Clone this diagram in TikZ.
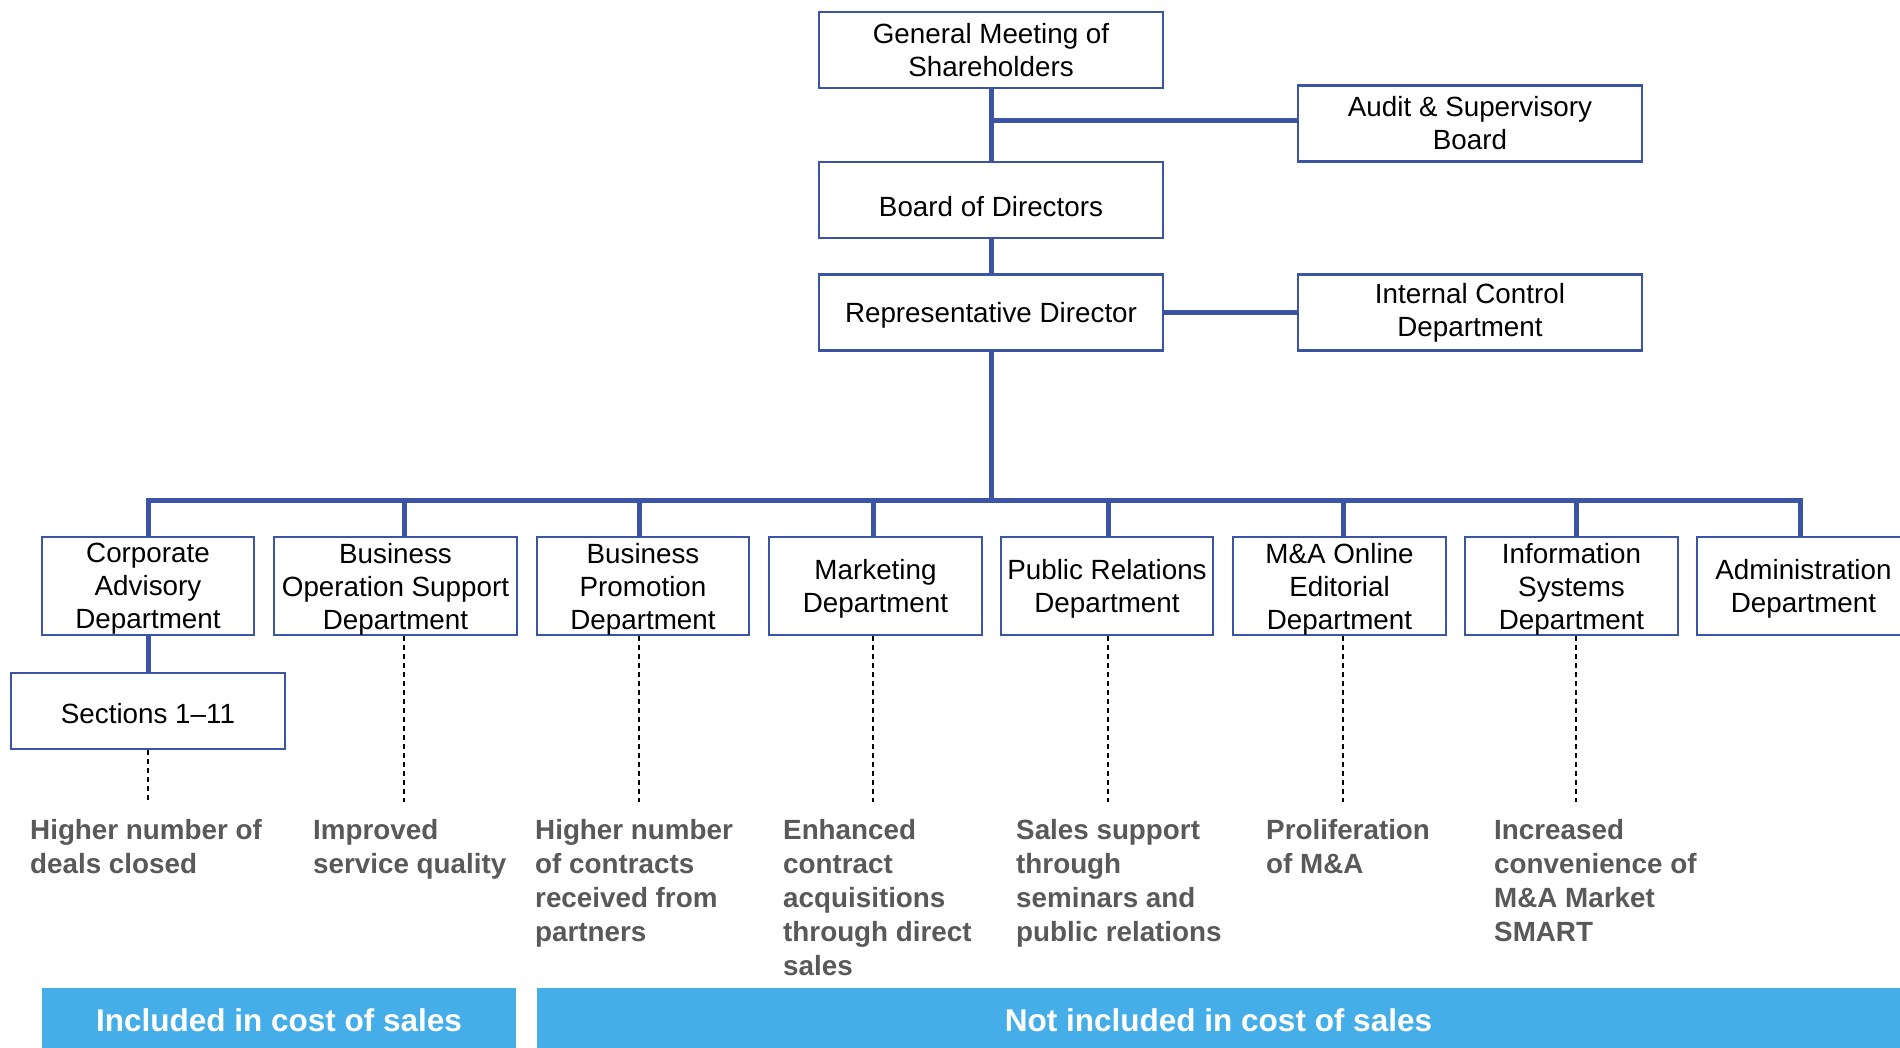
\documentclass[tikz,border=0pt]{standalone}
\usepackage{fontspec}
\setmainfont{Liberation Sans}
\usetikzlibrary{backgrounds}
\definecolor{orgblue}{RGB}{59,84,165}
\definecolor{bengray}{RGB}{89,89,89}
\definecolor{barblue}{RGB}{69,174,232}
\newcommand\liftrule[1]{\rule{0pt}{#1}}
\begin{document}
\begin{tikzpicture}[x=1pt,y=-1pt,
  orgbox/.style={draw=orgblue, line width=2.3pt, fill=white, inner sep=0pt, align=center,
    font=\fontsize{27.8}{33}\selectfont, text=black},
  topbox/.style={orgbox, minimum width=344pt, minimum height=76pt},
  deptbox/.style={orgbox, minimum width=212pt, minimum height=98pt, text depth=-1.5pt},
  conn/.style={draw=orgblue, line width=5pt},
  dashline/.style={draw=black, line width=1.2pt, dash pattern=on 5pt off 4pt},
  benefit/.style={anchor=north west, inner sep=0pt, align=left, text=bengray,
    font=\fontsize{27.8}{34}\selectfont\bfseries},
  costbar/.style={fill=barblue, inner sep=0pt, text=white, minimum height=60pt,
    font=\fontsize{31.5}{36}\selectfont\bfseries,
    execute at begin node={\liftrule{28pt}}}]
\useasboundingbox (0,0) rectangle (1900,1048);

% top of the chart
\node[topbox, text depth=-2pt] (gm) at (991,50) {General Meeting of\\Shareholders};
\node[topbox] (audit) at (1470,123.5) {Audit \& Supervisory\\Board};
\node[topbox, execute at begin node={\liftrule{34pt}}] (bod) at (991,200) {Board of Directors};
\node[topbox, execute at begin node={\liftrule{26pt}}] (rep) at (991,312.5) {Representative Director};
\node[topbox, execute at begin node={\liftrule{22pt}}] (ic) at (1470,312.5) {Internal Control\\Department};

% departments
\node[deptbox] (ca) at (148,586) {Corporate\\Advisory\\Department};
\node[deptbox, minimum width=243pt] (bos) at (395.5,586) {Business\\Operation Support\\Department};
\node[deptbox] (bp) at (643,586) {Business\\Promotion\\Department};
\node[deptbox, minimum width=213pt] (mk) at (875.5,586) {Marketing\\Department};
\node[deptbox] (pr) at (1107,586) {Public Relations\\Department};
\node[deptbox, minimum width=213pt] (ma) at (1339.5,586) {M\&A Online\\Editorial\\Department};
\node[deptbox, minimum width=213pt] (is) at (1571.5,586) {Information\\Systems\\Department};
\node[deptbox, minimum width=213pt] (ad) at (1803.5,586) {Administration\\Department};

\node[orgbox, minimum width=274pt, minimum height=76pt,
  execute at begin node={\liftrule{25.5pt}}] (sec) at (148,711) {Sections 1\textendash11};

% bus coordinates
\coordinate (busc) at (991,500);
\coordinate (b1) at (148,500);
\coordinate (b2) at (404,500);
\coordinate (b3) at (639,500);
\coordinate (b4) at (873,500);
\coordinate (b5) at (1108,500);
\coordinate (b6) at (1343,500);
\coordinate (b7) at (1576,500);
\coordinate (b8) at (1800,500);

% dashed ends
\coordinate (d1) at (148,802);
\coordinate (d2) at (404,802);
\coordinate (d3) at (639,802);
\coordinate (d4) at (873,802);
\coordinate (d5) at (1108,802);
\coordinate (d6) at (1343,802);
\coordinate (d7) at (1576,802);

\begin{pgfonlayer}{background}
  \draw[conn] (gm.south) -- (bod.north);
  \draw[conn] (gm.south |- 0,121) -- (audit.west |- 0,121);
  \draw[conn] (bod.south) -- (rep.north);
  \draw[conn] (rep.east) -- (ic.west);
  \draw[conn] (rep.south) -- (busc);
  \draw[conn] (b1 |- ca.north) -- (b1) -- (b8) -- (b8 |- ad.north);
  \draw[conn] (b2) -- (b2 |- bos.north);
  \draw[conn] (b3) -- (b3 |- bp.north);
  \draw[conn] (b4) -- (b4 |- mk.north);
  \draw[conn] (b5) -- (b5 |- pr.north);
  \draw[conn] (b6) -- (b6 |- ma.north);
  \draw[conn] (b7) -- (b7 |- is.north);
  \draw[conn] (ca.south) -- (sec.north);
\end{pgfonlayer}

% dashed lines
\draw[dashline] (sec.south) -- (d1);
\draw[dashline] (b2 |- bos.south) -- (d2);
\draw[dashline] (b3 |- bp.south) -- (d3);
\draw[dashline] (b4 |- mk.south) -- (d4);
\draw[dashline] (b5 |- pr.south) -- (d5);
\draw[dashline] (b6 |- ma.south) -- (d6);
\draw[dashline] (b7 |- is.south) -- (d7);

% benefits
\node[benefit] (t1) at (30,815) {\strut Higher number of\\deals closed};
\node[benefit] (t2) at (313,815) {\strut Improved\\service quality};
\node[benefit] (t3) at (535,815) {\strut Higher number\\of contracts\\received from\\partners};
\node[benefit] (t4) at (783,815) {\strut Enhanced\\contract\\acquisitions\\through direct\\sales};
\node[benefit] (t5) at (1016,815) {\strut Sales support\\through\\seminars and\\public relations};
\node[benefit] (t6) at (1266,815) {\strut Proliferation\\of M\&A};
\node[benefit] (t7) at (1494,815) {\strut Increased\\convenience of\\M\&A Market\\SMART};

% cost bars
\node[costbar, minimum width=474pt] (inc) at (279,1018) {Included in cost of sales};
\node[costbar, minimum width=1363pt] (notinc) at (1218.5,1018) {Not included in cost of sales};
\end{tikzpicture}
\end{document}
